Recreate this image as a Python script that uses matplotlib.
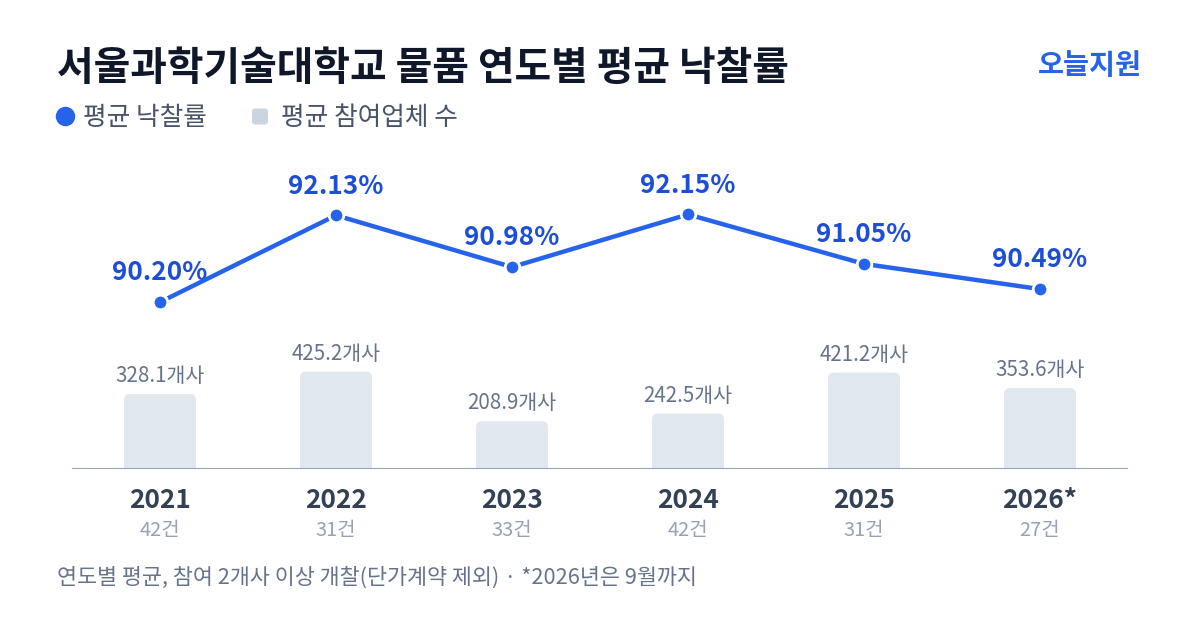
import matplotlib
matplotlib.use("Agg")
import matplotlib.pyplot as plt
from matplotlib.patches import FancyBboxPatch
from matplotlib.lines import Line2D

plt.rcParams["font.family"] = ["Noto Sans CJK KR", "DejaVu Sans"]

# ── data ───────────────────────────────────────────────────────────────
years = ["2021", "2022", "2023", "2024", "2025", "2026*"]
counts = ["42건", "31건", "33건", "42건", "31건", "27건"]
win_rate = [90.20, 92.13, 90.98, 92.15, 91.05, 90.49]
bidders = [328.1, 425.2, 208.9, 242.5, 421.2, 353.6]

BLUE = "#2563EB"
BLUE_TXT = "#1D4ED8"
BAR = "#E2E8F0"
AXIS = "#94A3B8"

W, H = 1200, 630
fig = plt.figure(figsize=(W / 100, H / 100), dpi=100)
fig.patch.set_facecolor("white")


def px(x, y):
    """pixel coords (top-left origin) -> figure fraction"""
    return x / W, 1 - y / H


# axes: x 72..1128 px, y 150..468 px
ax_left, ax_right, ax_top, ax_bot = 72, 1128, 151, 469
ax = fig.add_axes([ax_left / W, 1 - ax_bot / H,
                   (ax_right - ax_left) / W, (ax_bot - ax_top) / H])
ax.set_xlim(-0.5, len(years) - 0.5)
bar_ymax = 1389
ax.set_ylim(0, bar_ymax)
ax.axis("off")

xs = list(range(len(years)))
bw = 72 / 176
ppx_x = 176                                     # px per x unit
ppx_y = (ax_bot - ax_top) / bar_ymax            # px per y unit
r_px = 6
aspect = (1 / ppx_y) / (1 / ppx_x)
for x, v in zip(xs, bidders):
    p = FancyBboxPatch((x - bw / 2, -60), bw, v + 60,
                       boxstyle=f"round,pad=0,rounding_size={r_px / ppx_x}",
                       mutation_aspect=aspect, fc=BAR, ec="none", zorder=1)
    ax.add_patch(p)
    ax.annotate(f"{v:.1f}개사", (x, v), xytext=(0, 5), textcoords="offset points",
                ha="center", va="bottom", fontsize=14.8, color="#64748B")

ax.add_line(Line2D([-0.5, len(years) - 0.5], [0, 0], color=AXIS, lw=1.5, zorder=3))

# line axes
ax2 = fig.add_axes(ax.get_position(), sharex=ax)
ax2.set_ylim(86.49, 93.56)
ax2.axis("off")
ax2.plot(xs, win_rate, color=BLUE, lw=3.2, zorder=4, solid_capstyle="round")
ax2.plot(xs, win_rate, "o", ms=10.5, color=BLUE, mec="white", mew=2, zorder=5)
for x, v in zip(xs, win_rate):
    ax2.annotate(f"{v:.2f}%", (x, v), xytext=(0, 21), textcoords="offset points",
                 ha="center", va="center", fontsize=18.8, fontweight="bold", color=BLUE_TXT)

# year / count labels
for x, yr, c in zip(xs, years, counts):
    ax.annotate(yr, (x, 0), xytext=(0, -23), textcoords="offset points",
                ha="center", va="center", fontsize=18.9, fontweight="bold", color="#334155")
    ax.annotate(c, (x, 0), xytext=(0, -44), textcoords="offset points",
                ha="center", va="center", fontsize=14.4, color="#94A3B8")

# title, brand
fig.text(*px(57, 69), "서울과학기술대학교 물품 연도별 평균 낙찰률", fontsize=28.7,
         fontweight="bold", color="#0F172A", ha="left", va="center")
fig.text(*px(1142, 66), "오늘지원", fontsize=20.4, fontweight="bold", color=BLUE,
         ha="right", va="center")

# legend
fig.add_artist(Line2D([65 / W], [1 - 116 / H], marker="o", ms=13, color=BLUE,
                      transform=fig.transFigure))
fig.text(*px(83, 118), "평균 낙찰률", fontsize=18.5, color="#475569", ha="left", va="center")
sq = FancyBboxPatch(px(252, 124.5), 16 / W, 16 / H,
                    boxstyle=f"round,pad=0,rounding_size={3 / W}",
                    mutation_aspect=W / H, fc="#CBD5E1", ec="none",
                    transform=fig.transFigure)
fig.add_artist(sq)
fig.text(*px(281, 118), "평균 참여업체 수", fontsize=18.5, color="#475569", ha="left", va="center")

# footer
fig.text(*px(57, 578), "연도별 평균, 참여 2개사 이상 개찰(단가계약 제외) · *2026년은 9월까지",
         fontsize=15.7, color="#64748B", ha="left", va="center")

fig.savefig("out.png", dpi=100, facecolor="white")
